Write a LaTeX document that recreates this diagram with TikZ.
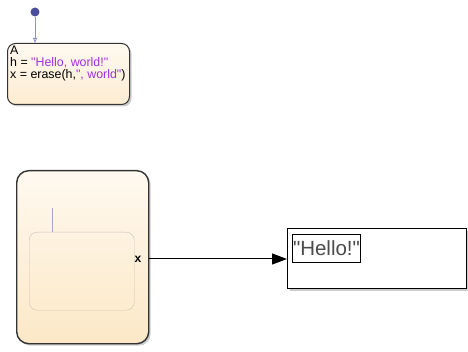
\documentclass[tikz,border=0pt]{standalone}
\usepackage{fontspec}
\setmainfont{Liberation Sans}[Ligatures=TeXOff]
\usepackage{xcolor}
\usetikzlibrary{arrows.meta,positioning,shadows}

\definecolor{dotblue}{HTML}{4A4E9C}
\definecolor{trblue}{HTML}{8A90C8}
\definecolor{strpurple}{HTML}{A230E0}
\definecolor{creamtop}{HTML}{FFF9F0}
\definecolor{creambot}{HTML}{FCE8C6}
\definecolor{boxgray}{HTML}{C8C2BA}

\begin{document}
\begin{tikzpicture}[x=1pt,y=-1pt,
  statebox/.style={draw=black!80, line width=1pt, rounded corners=8pt,
    drop shadow={opacity=0.4, shadow xshift=2pt, shadow yshift=-2pt}},
  txt/.style={font=\fontsize{12.4}{12}\selectfont, inner sep=0pt, align=left}]
  \useasboundingbox (0,0) rectangle (468,352);

  \node[circle, fill=dotblue, inner sep=0pt, minimum size=9pt] (dot) at (35,12) {};
  \node[statebox, anchor=north west, minimum width=122pt, minimum height=61pt,
    top color=creamtop, bottom color=creambot!80] (A) at (7,43) {};
  \draw[-{Triangle[open,length=5pt,width=4pt]}, trblue, thick] (dot) -- (dot |- A.north);

  \node[txt, anchor=north west] (atext) at (10,46) {A\\
    h = \textcolor{strpurple}{"Hello, world!"}\\
    x = erase(h,\textcolor{strpurple}{", world"})};

  \node[statebox, anchor=north west, rounded corners=12pt, line width=1.4pt,
    minimum width=132pt, minimum height=173pt,
    top color=creamtop, bottom color=creambot] (chart) at (16,170) {};
  \node[draw=boxgray, rounded corners=8pt, anchor=north west,
    minimum width=105pt, minimum height=78pt] (inner) at (29,232) {};
  \coordinate (tstart) at (52,208);
  \draw[trblue!80, line width=0.8pt] (tstart) -- (tstart |- inner.north);
  \node[font=\bfseries\fontsize{12}{12}\selectfont, anchor=east, inner sep=0pt] (xport)
    at ([xshift=-8pt]chart.east |- 0,259) {x};

  \node[draw, line width=1.2pt, anchor=north west, minimum width=179pt, minimum height=60pt,
    drop shadow={opacity=0.4, shadow xshift=2pt, shadow yshift=-2pt}, fill=white] (disp) at (287,228) {};
  \node[draw, line width=1pt, anchor=north west, inner xsep=0.5pt, inner ysep=1pt,
    minimum height=28pt, text=black!70, font=\fontsize{20.5}{21}\selectfont] (val) at (292,234) {"Hello!"};

  \draw[-{Triangle[length=15pt,width=11pt]}, line width=1pt] (chart.east |- xport) -- (disp.west |- xport);
\end{tikzpicture}
\end{document}
